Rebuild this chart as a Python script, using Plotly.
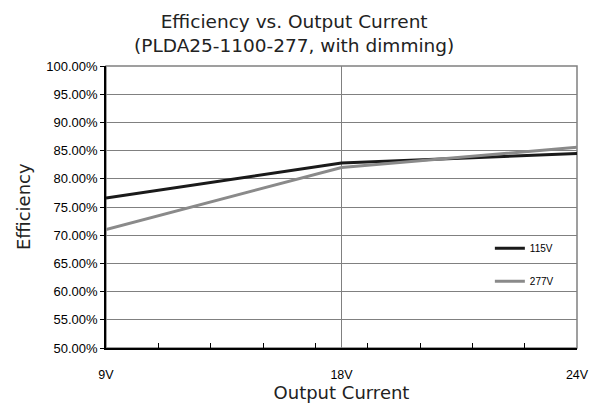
import plotly.graph_objects as go

categories = ["9V", "18V", "24V"]
eff_115v = [76.6, 82.8, 84.5]
eff_277v = [71.0, 82.0, 85.6]
series_names = ["115V", "277V"]
y_ticks = [50, 55, 60, 65, 70, 75, 80, 85, 90, 95, 100]
y_tick_text = [f"{v:.2f}%" for v in y_ticks]

fig = go.Figure()
fig.add_trace(go.Scatter(x=categories, y=eff_115v, name=series_names[0], mode="lines",
                         line=dict(color="#1a1a1a", width=3), legendgroup="a"))
fig.add_trace(go.Scatter(x=categories, y=eff_277v, name=series_names[1], mode="lines",
                         line=dict(color="#8a8a8a", width=3), legendgroup="b"))
# invisible trace for minor tick axis
fig.add_trace(go.Scatter(x=[0, 9], y=[None, None], xaxis="x2", showlegend=False,
                         hoverinfo="skip"))

fig.update_layout(
    width=604, height=404,
    margin=dict(l=106, r=27, t=66, b=56, autoexpand=False),
    paper_bgcolor="white", plot_bgcolor="white",
    title=dict(text="Efficiency vs. Output Current<br>(PLDA25-1100-277, with dimming)",
               x=0.487, xanchor="center", y=0.93, yanchor="top",
               font=dict(family="DejaVu Sans", size=18.5, color="#222222")),
    xaxis=dict(type="category", categoryorder="array", categoryarray=categories,
               range=[0, 2], showgrid=True, gridcolor="#808080", gridwidth=1,
               showline=True, linecolor="#000000", linewidth=1.5, ticks="",
               ticklabelstandoff=14,
               tickfont=dict(family="Liberation Sans", size=12.5, color="#000000"),
               title=dict(text="Output Current", standoff=3,
                          font=dict(family="DejaVu Sans", size=18, color="#222222")),
               zeroline=False),
    xaxis2=dict(overlaying="x", anchor="y", range=[0, 9], dtick=1, tick0=0,
                ticks="inside", ticklen=5, tickcolor="#000000", showticklabels=False,
                showgrid=False, zeroline=False, showline=False),
    yaxis=dict(range=[50, 100], tickmode="array", tickvals=y_ticks, ticktext=y_tick_text,
               showgrid=True, gridcolor="#808080", gridwidth=1,
               showline=True, linecolor="#000000", linewidth=1.5,
               ticks="outside", ticklen=4, tickcolor="#000000",
               tickfont=dict(family="Liberation Sans", size=13, color="#000000"),
               zeroline=False),
    legend=dict(x=0.815, y=0.405, xanchor="left", yanchor="top",
                bgcolor="rgba(0,0,0,0)", traceorder="grouped", tracegroupgap=14,
                itemwidth=30,
                font=dict(family="Liberation Sans", size=10, color="#000000")),
    shapes=[dict(type="rect", xref="paper", yref="paper", x0=0, x1=1, y0=0, y1=1,
                 line=dict(color="#808080", width=1.5), layer="below")],
    annotations=[dict(text="Efficiency", textangle=-90, xref="paper", yref="paper",
                      x=-0.176, y=0.5, xanchor="center", yanchor="middle", showarrow=False,
                      font=dict(family="DejaVu Sans", size=18, color="#222222"))],
)

fig.write_html("out.html", config={"displayModeBar": False},
               post_script="document.body.style.margin='0';")
